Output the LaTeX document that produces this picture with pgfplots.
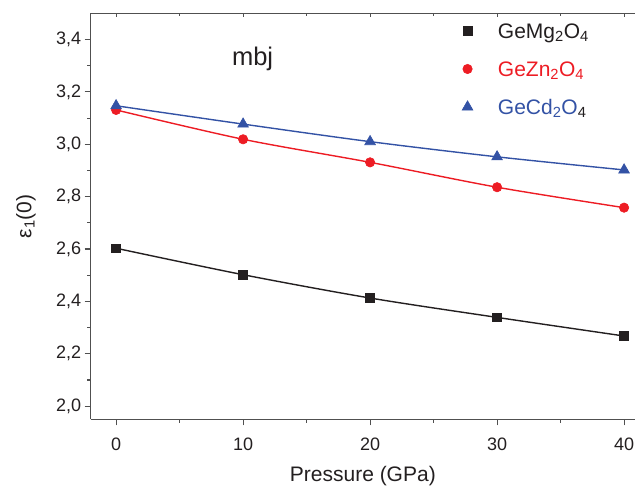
\documentclass[border=0pt]{standalone}
\usepackage{fontspec}
\setmainfont{Liberation Sans}
\usepackage{pgfplots}
\pgfplotsset{compat=1.18}
\definecolor{cblack}{RGB}{35,31,32}
\definecolor{cred}{RGB}{237,28,36}
\definecolor{cblue}{RGB}{51,82,165}
\definecolor{caxis}{RGB}{80,80,80}
\begin{document}
\begin{tikzpicture}
\path[use as bounding box] (-90.7pt,-67.7pt) rectangle (544.3pt,419.3pt);
\begin{axis}[
 at={(0pt,0pt)}, anchor=south west,
 scale only axis, width=544.3pt, height=406pt,
 xmin=-2, xmax=40.86, ymin=1.95, ymax=3.5,
 axis x line*=bottom, axis y line*=left,
 axis line style={caxis, line width=1.2pt},
 every tick/.style={caxis, line width=1.1pt},
 tick align=outside,
 major tick length=6pt, minor tick length=3.5pt,
 xtick={0,10,20,30,40}, minor xtick={5,15,25,35},
 ytick={2.0,2.2,2.4,2.6,2.8,3.0,3.2,3.4},
 minor ytick={2.1,2.3,2.5,2.7,2.9,3.1,3.3},
 /pgf/number format/assume math mode=true,
 tick label style={font=\fontsize{18}{21}\selectfont, color=cblack},
 yticklabel style={/pgf/number format/.cd, use comma, fixed, fixed zerofill, precision=1},
 xticklabel style={yshift=-9pt, /pgf/number format/.cd, fixed, precision=0},
 xlabel={Pressure (GPa)},
 ylabel={ε\textsubscript{1}(0)},
 every axis x label/.style={at={(axis description cs:0.5,-0.1409)}, anchor=center, font=\fontsize{21}{24}\selectfont, color=cblack},
 every axis y label/.style={at={(axis description cs:-0.1189,0.5)}, anchor=center, rotate=90, font=\fontsize{21}{24}\selectfont, color=cblack},
 legend image code/.code={\draw[#1] plot coordinates {(0pt,0pt)};},
 legend style={at={(0.6825,0.9749)}, anchor=north west, draw=none, fill=none,
   inner sep=0pt, outer sep=0pt, row sep=23pt, column sep=25pt,
   nodes={inner sep=0pt, anchor=west, text height=15pt, text depth=0pt},
   font=\fontsize{21}{24}\selectfont},
 legend cell align=left,
]
\addplot[cblack, line width=1.4pt, smooth, mark=square*, mark size=4.3pt, mark options={solid, line width=0.6pt}]
 coordinates {(0,2.603)(10,2.502)(20,2.413)(30,2.339)(40,2.268)};
\addlegendentry{\textcolor{cblack}{GeMg\textsubscript{2}O\textsubscript{4}}}
\addplot[cred, line width=1.4pt, smooth, mark=*, mark size=4.7pt, mark options={solid, line width=0.6pt}]
 coordinates {(0,3.131)(10,3.019)(20,2.931)(30,2.836)(40,2.758)};
\addlegendentry{\textcolor{cred}{GeZn\textsubscript{2}O\textsubscript{4}}}
\addplot[cblue, line width=1.4pt, smooth, mark=triangle*, mark size=6.2pt, mark options={solid, line width=0.6pt}]
 coordinates {(0,3.147)(10,3.077)(20,3.010)(30,2.952)(40,2.902)};
\addlegendentry{\textcolor{cblue}{GeCd\textsubscript{2}O\textcolor{cblack}{\textsubscript{4}}}}
\node[anchor=base, font=\fontsize{25.5}{29}\selectfont, color=cblack] at (axis cs:10.75,3.30) {mbj};
\end{axis}
\begin{axis}[
 at={(0pt,0pt)}, anchor=south west,
 scale only axis, width=544.3pt, height=406pt,
 xmin=-2, xmax=40.86, ymin=1.95, ymax=3.5,
 axis x line*=top, axis y line=none,
 axis line style={caxis, line width=1.2pt},
 every tick/.style={caxis, line width=1.1pt},
 tick align=inside,
 major tick length=4pt, minor tick length=3pt,
 xtick={0,10,20,30,40}, minor xtick={5,15,25,35},
 xticklabels={}, ytick=\empty,
]
\end{axis}
\end{tikzpicture}
\end{document}
